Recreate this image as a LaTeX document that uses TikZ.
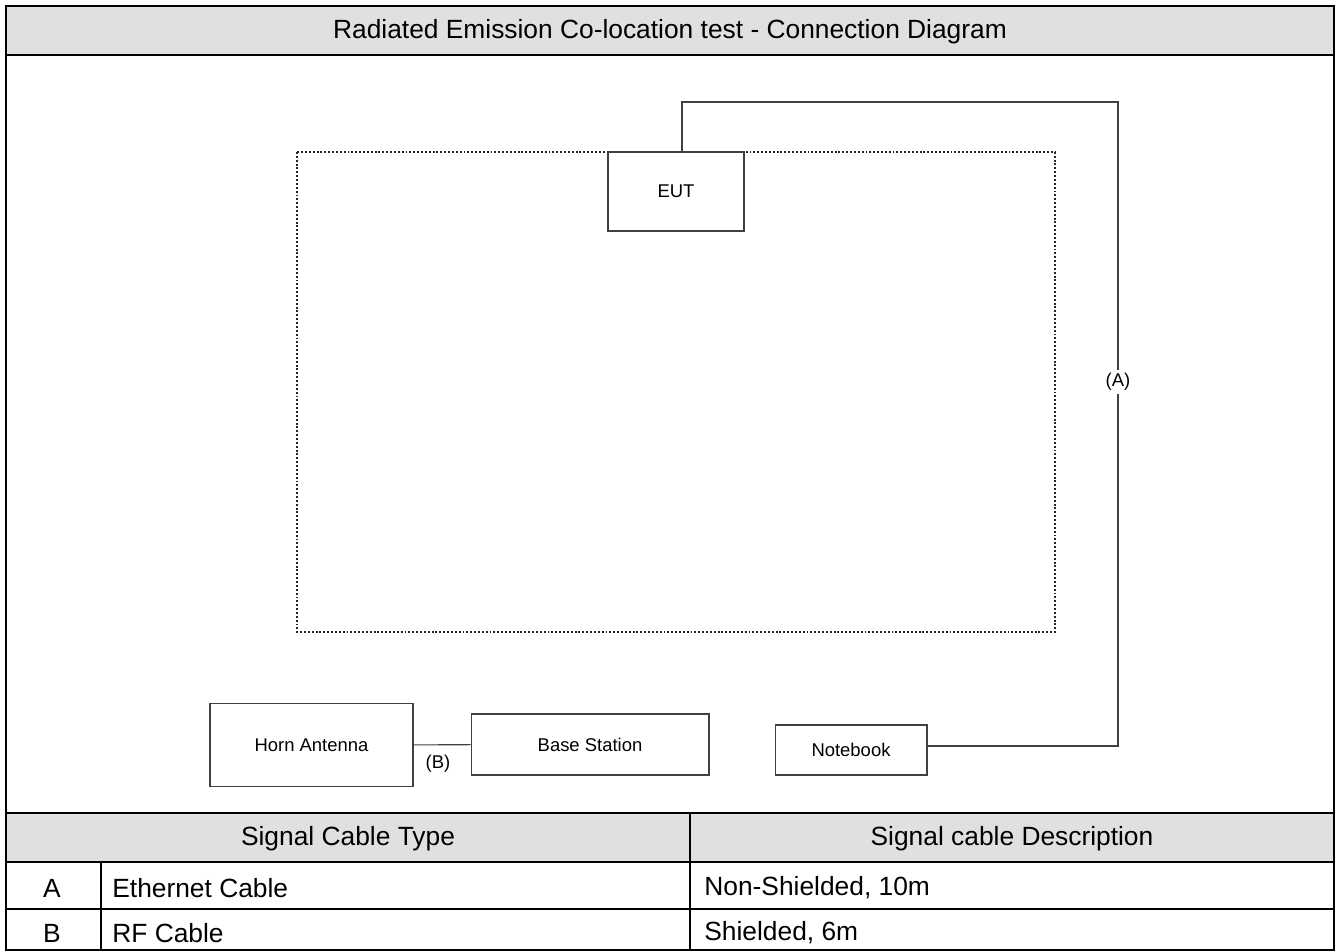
\documentclass[tikz,border=0pt]{standalone}
\usepackage{fontspec}
\setmainfont{Liberation Sans}

\begin{document}
\begin{tikzpicture}[x=0.02cm, y=-0.02cm,
		bigtext/.style={font=\fontsize{15}{18}\selectfont},
		smalltext/.style={font=\fontsize{10.5}{12.6}\selectfont},
		device/.style={draw=black!75, line width=0.6pt, smalltext, inner sep=0pt},
		cable/.style={draw=black!75, line width=0.6pt},
		rule/.style={line width=1.4pt}]
		
		% Define colors
		\definecolor{headgray}{RGB}{224, 224, 224}
		
		\useasboundingbox (0,0) rectangle (1341,952);
		
		% Title row and table header row
		\fill[headgray] (6,6) rectangle (1334,55);
		\fill[headgray] (6,813) rectangle (1334,862);
		\node[bigtext] (title) at (670,32) {Radiated Emission Co-location test - Connection Diagram};
		
		% Draw the test area
		\draw[line width=1.3pt, dash pattern=on 1.1pt off 1.1pt, black!85] (297,152) rectangle (1055,632);
		
		% Devices
		\node[device, minimum width=2.72cm, minimum height=1.58cm, fill=white] (eut) at (676,191.5) {EUT};
		\node[device, minimum width=4.06cm, minimum height=1.66cm] (horn) at (311.5,745) {Horn Antenna};
		\node[device, minimum width=4.76cm, minimum height=1.22cm] (base) at (590,744.5) {Base Station};
		\node[device, minimum width=3.04cm, minimum height=1.0cm] (notebook) at (851,750) {Notebook};
		
		% Cables
		\coordinate (cornerA) at (1118,102);
		\draw[cable] (notebook.east |- 0,746) -| (cornerA) -| (eut.north -| 682,0);
		\node[smalltext, fill=white, inner sep=2pt] (labA) at (1118,382) {(A)};
		\draw[cable] (horn) -- (base);
		\node[smalltext] (labB) at (438,764) {(B)};
		
		% Table lines
		\draw[rule] (6,55) -- (1334,55);
		\draw[rule] (6,813) -- (1334,813);
		\draw[rule] (6,862) -- (1334,862);
		\draw[rule] (6,909) -- (1334,909);
		\draw[line width=1pt] (690,813) -- (690,950);
		\draw[line width=1pt] (101,862) -- (101,950);
		\draw[rule] (6,6) rectangle (1334,950);
		
		% Table text
		\node[bigtext] (typehead) at (348,839) {Signal Cable Type};
		\node[bigtext] (deschead) at (1012,839) {Signal cable Description};
		\node[bigtext] (rowA) at (52,888) {A};
		\node[bigtext] (rowB) at (52,933) {B};
		\node[bigtext, anchor=west, inner sep=0pt] (typeA) at (112,888) {Ethernet Cable};
		\node[bigtext, anchor=west, inner sep=0pt] (typeB) at (112,933) {RF Cable};
		\node[bigtext, anchor=west, inner sep=0pt] (descA) at (704,888) {Non-Shielded, 10m};
		\node[bigtext, anchor=west, inner sep=0pt] (descB) at (704,933) {Shielded, 6m};
	\end{tikzpicture}
\end{document}
